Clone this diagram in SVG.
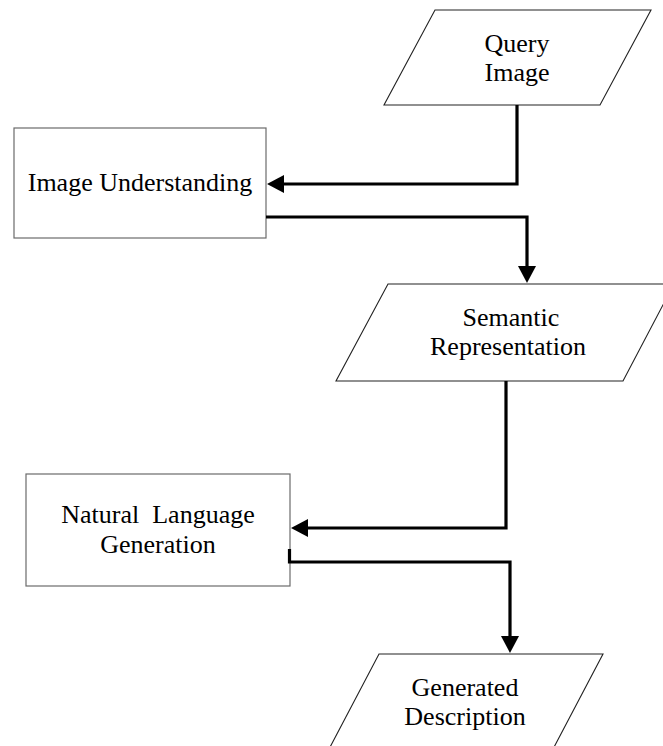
<svg xmlns="http://www.w3.org/2000/svg" width="663" height="746" viewBox="0 0 663 746">
  <style>
    .box { fill: #ffffff; stroke: #6b6b6b; stroke-width: 1.2; }
    .io { fill: #ffffff; stroke: #222222; stroke-width: 1.1; }
    .label { font-family: "Liberation Serif", "Times New Roman", serif; font-size: 26px; fill: #000000; text-anchor: middle; }
    .flow { fill: none; stroke: #000000; stroke-width: 3.2; stroke-linejoin: miter; stroke-linecap: butt; marker-end: url(#head); }
  </style>
  <defs>
    <marker id="head" viewBox="0 0 17 18" refX="0" refY="9" markerWidth="17" markerHeight="18" markerUnits="userSpaceOnUse" orient="auto">
      <path d="M0,0 L17,9 L0,18 Z" fill="#000000"/>
    </marker>
  </defs>
  <rect width="663" height="746" fill="#ffffff"/>

  <g id="query-image">
    <polygon class="io" points="435,10 651,10 600,105 384,105"/>
    <text class="label" x="517" y="52">Query</text>
    <text class="label" x="517" y="81">Image</text>
  </g>

  <g id="image-understanding">
    <rect class="box" x="14" y="128" width="252" height="110"/>
    <text class="label" x="140" y="191">Image Understanding</text>
  </g>

  <g id="semantic-representation">
    <polygon class="io" points="388,284 674,284 623,381 336,381"/>
    <text class="label" x="511" y="326">Semantic</text>
    <text class="label" x="508" y="355">Representation</text>
  </g>

  <g id="natural-language-generation">
    <rect class="box" x="26" y="474" width="264" height="112"/>
    <text class="label" x="158" y="523" xml:space="preserve">Natural  Language</text>
    <text class="label" x="158" y="553">Generation</text>
  </g>

  <g id="generated-description">
    <polygon class="io" points="379,654 603,654 552,751 328,751"/>
    <text class="label" x="465" y="696">Generated</text>
    <text class="label" x="465" y="725">Description</text>
  </g>

  <g id="connectors">
    <path class="flow" d="M517,105 V184 H284"/>
    <path class="flow" d="M266,217 H527 V266"/>
    <path class="flow" d="M506,381 V528 H308"/>
    <path class="flow" d="M289.5,549 V562 H510 V636"/>
  </g>
</svg>
